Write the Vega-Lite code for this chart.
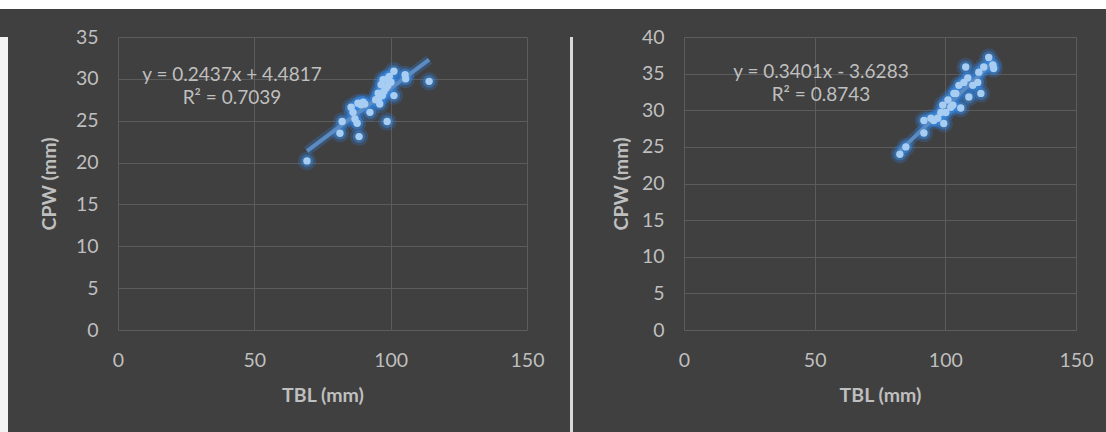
{
  "$schema": "https://vega.github.io/schema/vega-lite/v6.json",
  "padding": 0,
  "background": "#404040",
  "config": {
    "view": {"stroke": null},
    "font": "Lato",
    "axis": {
      "grid": true,
      "gridColor": "#5c5c5c",
      "gridWidth": 1,
      "domain": false,
      "ticks": false,
      "tickSize": 0,
      "labelFlush": false,
      "labelOverlap": false,
      "labelColor": "#bfbfbf",
      "labelFont": "Lato",
      "labelFontSize": 19.5,
      "titleColor": "#bfbfbf",
      "titleFont": "Lato",
      "titleFontSize": 19.5,
      "titleFontWeight": "bold"
    },
    "title": {"color": "#404040", "fontSize": 10}
  },
  "datasets": {
    "left": [
      {"TBL": 69.3, "CPW": 20.2}, {"TBL": 81.4, "CPW": 23.5}, {"TBL": 82.2, "CPW": 24.9},
      {"TBL": 88.4, "CPW": 23.1}, {"TBL": 87.7, "CPW": 24.7}, {"TBL": 86.9, "CPW": 25.2},
      {"TBL": 85.5, "CPW": 26.6}, {"TBL": 86.2, "CPW": 26.0}, {"TBL": 88.0, "CPW": 27.1},
      {"TBL": 89.9, "CPW": 27.2}, {"TBL": 89.1, "CPW": 26.9}, {"TBL": 92.4, "CPW": 26.0},
      {"TBL": 95.4, "CPW": 28.3}, {"TBL": 95.7, "CPW": 27.7}, {"TBL": 96.5, "CPW": 29.3},
      {"TBL": 97.2, "CPW": 29.9}, {"TBL": 98.7, "CPW": 24.9}, {"TBL": 101.2, "CPW": 28.0},
      {"TBL": 101.2, "CPW": 30.9}, {"TBL": 105.3, "CPW": 30.5}, {"TBL": 114.1, "CPW": 29.7},
      {"TBL": 100.1, "CPW": 29.6}, {"TBL": 98.3, "CPW": 28.9}, {"TBL": 97.5, "CPW": 28.5},
      {"TBL": 99.5, "CPW": 30.3}, {"TBL": 96.0, "CPW": 27.0}, {"TBL": 94.5, "CPW": 27.5},
      {"TBL": 98.8, "CPW": 30.0}, {"TBL": 90.5, "CPW": 27.0}, {"TBL": 105.5, "CPW": 30.0},
      {"TBL": 97.0, "CPW": 28.0}, {"TBL": 99.0, "CPW": 29.2}
    ],
    "leftTrend": [{"TBL": 69.3, "CPW": 21.37}, {"TBL": 114.1, "CPW": 32.29}],
    "leftNote": [{"note": "y = 0.2437x + 4.4817\nR² = 0.7039"}],
    "right": [
      {"TBL": 82.6, "CPW": 24.0}, {"TBL": 84.9, "CPW": 25.0}, {"TBL": 91.8, "CPW": 26.9},
      {"TBL": 91.8, "CPW": 28.6}, {"TBL": 95.6, "CPW": 28.6}, {"TBL": 97.1, "CPW": 28.9},
      {"TBL": 99.4, "CPW": 28.2}, {"TBL": 99.0, "CPW": 30.7}, {"TBL": 102.1, "CPW": 30.4},
      {"TBL": 102.9, "CPW": 30.7}, {"TBL": 105.9, "CPW": 30.3}, {"TBL": 104.0, "CPW": 32.3},
      {"TBL": 105.2, "CPW": 33.4}, {"TBL": 107.8, "CPW": 35.9}, {"TBL": 108.6, "CPW": 34.4},
      {"TBL": 109.0, "CPW": 31.8}, {"TBL": 112.4, "CPW": 33.8}, {"TBL": 113.6, "CPW": 32.3},
      {"TBL": 112.8, "CPW": 35.2}, {"TBL": 114.7, "CPW": 35.9}, {"TBL": 116.6, "CPW": 37.2},
      {"TBL": 118.2, "CPW": 36.2}, {"TBL": 118.5, "CPW": 35.7}, {"TBL": 110.5, "CPW": 33.4},
      {"TBL": 107.1, "CPW": 33.8}, {"TBL": 103.3, "CPW": 32.3}, {"TBL": 101.0, "CPW": 31.4},
      {"TBL": 100.2, "CPW": 29.7}, {"TBL": 94.5, "CPW": 28.9}, {"TBL": 98.3, "CPW": 29.7}
    ],
    "rightTrend": [{"TBL": 82.6, "CPW": 24.46}, {"TBL": 118.5, "CPW": 36.67}],
    "rightNote": [{"note": "y = 0.3401x - 3.6283\nR² = 0.8743"}]
  },
  "spacing": 0,
  "vconcat": [
    {
      "width": 1106,
      "height": 9,
      "data": {"values": []},
      "mark": "point",
      "view": {"fill": "#ffffff", "stroke": null}
    },
    {
      "columns": 2,
      "align": "none",
      "spacing": 31,
      "concat": [
        {
          "width": 8,
          "height": 423,
          "data": {"values": []},
          "mark": "point",
          "view": {"fill": "#f2f2f2", "stroke": null}
        },
        {
          "columns": 2,
          "align": "none",
          "spacing": 38,
          "concat": [
            {
              "columns": 2,
              "align": "none",
              "spacing": 26,
              "concat": [
                {
                  "width": 409,
                  "height": 293,
                  "title": {"text": " ", "fontSize": 10, "offset": 8},
                  "layer": [
                    {
                      "data": {"name": "left"},
                      "mark": {"type": "point", "filled": true, "size": 340, "color": "#2e86f0", "opacity": 0.22},
                      "encoding": {
                        "x": {"field": "TBL", "type": "quantitative", "scale": {"domain": [0, 150], "nice": false},
                          "axis": {"values": [0, 50, 100, 150], "title": "TBL (mm)", "labelPadding": 21, "titlePadding": 17}},
                        "y": {"field": "CPW", "type": "quantitative", "scale": {"domain": [0, 35], "nice": false},
                          "axis": {"values": [0, 5, 10, 15, 20, 25, 30, 35], "tickCount": 8, "title": "CPW (mm)", "labelPadding": 20, "titlePadding": 16}}
                      }
                    },
                    {
                      "data": {"name": "left"},
                      "mark": {"type": "point", "filled": true, "size": 160, "color": "#3a8ee6", "opacity": 0.42},
                      "encoding": {"x": {"field": "TBL", "type": "quantitative"}, "y": {"field": "CPW", "type": "quantitative"}}
                    },
                    {
                      "data": {"name": "leftTrend"},
                      "mark": {"type": "line", "color": "#2e86f0", "strokeWidth": 10, "opacity": 0.25},
                      "encoding": {"x": {"field": "TBL", "type": "quantitative"}, "y": {"field": "CPW", "type": "quantitative"}}
                    },
                    {
                      "data": {"name": "leftTrend"},
                      "mark": {"type": "line", "color": "#5a8bc2", "strokeWidth": 4},
                      "encoding": {"x": {"field": "TBL", "type": "quantitative"}, "y": {"field": "CPW", "type": "quantitative"}}
                    },
                    {
                      "data": {"name": "left"},
                      "mark": {"type": "point", "filled": true, "size": 55, "color": "#a8cdf2", "opacity": 1},
                      "encoding": {"x": {"field": "TBL", "type": "quantitative"}, "y": {"field": "CPW", "type": "quantitative"}}
                    },
                    {
                      "data": {"name": "leftNote"},
                      "mark": {"type": "text", "align": "center", "baseline": "middle", "fontSize": 19, "font": "Lato", "color": "#bfbfbf", "lineBreak": "\n", "lineHeight": 23},
                      "encoding": {
                        "x": {"datum": 41.8, "type": "quantitative"},
                        "y": {"datum": 30.46, "type": "quantitative"},
                        "text": {"field": "note", "type": "nominal"}
                      }
                    }
                  ]
                },
                {
                  "width": 3,
                  "height": 423,
                  "data": {"values": []},
                  "mark": "point",
                  "view": {"fill": "#d8d8d8", "stroke": null}
                }
              ]
            },
            {
              "width": 392,
              "height": 293,
              "title": {"text": " ", "fontSize": 10, "offset": 8},
              "layer": [
                {
                  "data": {"name": "right"},
                  "mark": {"type": "point", "filled": true, "size": 340, "color": "#2e86f0", "opacity": 0.22},
                  "encoding": {
                    "x": {"field": "TBL", "type": "quantitative", "scale": {"domain": [0, 150], "nice": false},
                      "axis": {"values": [0, 50, 100, 150], "title": "TBL (mm)", "labelPadding": 21, "titlePadding": 17}},
                    "y": {"field": "CPW", "type": "quantitative", "scale": {"domain": [0, 40], "nice": false},
                      "axis": {"values": [0, 5, 10, 15, 20, 25, 30, 35, 40], "tickCount": 9, "title": "CPW (mm)", "labelPadding": 20, "titlePadding": 10}}
                  }
                },
                {
                  "data": {"name": "right"},
                  "mark": {"type": "point", "filled": true, "size": 160, "color": "#3a8ee6", "opacity": 0.42},
                  "encoding": {"x": {"field": "TBL", "type": "quantitative"}, "y": {"field": "CPW", "type": "quantitative"}}
                },
                {
                  "data": {"name": "rightTrend"},
                  "mark": {"type": "line", "color": "#2e86f0", "strokeWidth": 10, "opacity": 0.25},
                  "encoding": {"x": {"field": "TBL", "type": "quantitative"}, "y": {"field": "CPW", "type": "quantitative"}}
                },
                {
                  "data": {"name": "rightTrend"},
                  "mark": {"type": "line", "color": "#5a8bc2", "strokeWidth": 4},
                  "encoding": {"x": {"field": "TBL", "type": "quantitative"}, "y": {"field": "CPW", "type": "quantitative"}}
                },
                {
                  "data": {"name": "right"},
                  "mark": {"type": "point", "filled": true, "size": 55, "color": "#a8cdf2", "opacity": 1},
                  "encoding": {"x": {"field": "TBL", "type": "quantitative"}, "y": {"field": "CPW", "type": "quantitative"}}
                },
                {
                  "data": {"name": "rightNote"},
                  "mark": {"type": "text", "align": "center", "baseline": "middle", "fontSize": 19, "font": "Lato", "color": "#bfbfbf", "lineBreak": "\n", "lineHeight": 23},
                  "encoding": {
                    "x": {"datum": 52.4, "type": "quantitative"},
                    "y": {"datum": 35.22, "type": "quantitative"},
                    "text": {"field": "note", "type": "nominal"}
                  }
                }
              ]
            }
          ]
        }
      ]
    }
  ]
}
